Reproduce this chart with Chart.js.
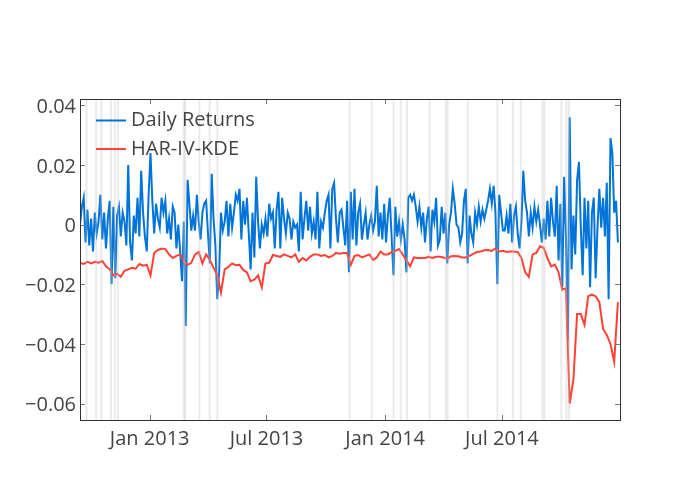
<!DOCTYPE html>
<html>
<head>
<meta charset="utf-8">
<script src="https://cdn.jsdelivr.net/npm/chart.js@4.4.1/dist/chart.umd.min.js"></script>
<style>
  html, body { margin: 0; padding: 0; background: #fff; }
</style>
</head>
<body>
<canvas id="chart" width="700" height="500"></canvas>
<script>
// x values are days counted from 1 Jan 2013
const dayStart = -108;
const returnsStep = 2.875;
const varStep = 5.75;

const dailyReturns = [
  0.000, 0.006, 0.009, -0.006, 0.005, -0.007, 0.002, -0.009, 0.004, -0.003,
  0.001, 0.010, -0.005, 0.004, -0.008, 0.002, 0.008, -0.020, 0.006, -0.018,
  0.003, 0.006, -0.004, 0.004, 0.001, -0.007, 0.020, -0.006, -0.012, 0.003,
  -0.003, 0.009, -0.004, 0.018, 0.004, -0.004, -0.009, 0.010, 0.024, 0.008,
  -0.003, 0.007, 0.002, -0.001, 0.009, 0.004, 0.008, -0.003, 0.002,
  -0.005, 0.006, 0.004, -0.008, 0.000, -0.009, -0.019, 0.001, -0.034, 0.015,
  0.007, -0.002, 0.003, -0.002, 0.010, 0.001, -0.005, 0.004, 0.007, 0.008,
  -0.003, -0.013, 0.017, 0.002, -0.007, -0.025, -0.016, 0.004, -0.002, 0.001,
  0.008, -0.004, 0.007, -0.001, 0.004, 0.010, 0.008, 0.012, -0.005, 0.008,
  0.000, 0.009, -0.003, -0.015, 0.004, -0.011, 0.016, 0.001, -0.008,
  0.000, -0.003, 0.002, -0.004, 0.007, 0.002, 0.004, -0.008, 0.005, 0.011,
  -0.008, 0.009, 0.002, -0.003, 0.004, 0.002, -0.005, 0.001, -0.001, 0.000,
  -0.009, 0.011, -0.005, 0.002, 0.008, -0.002, 0.006, -0.003, 0.001, -0.005,
  0.011, -0.008, 0.001, -0.001, 0.004, 0.008, 0.010, -0.008, 0.012, 0.014,
  0.002, -0.006, 0.004, 0.005, -0.001, -0.007, 0.008, -0.016,
  0.011, -0.005, 0.012, -0.007, 0.004, 0.007, -0.005, 0.000, 0.004, -0.005,
  0.000, 0.003, -0.002, 0.001, 0.013, -0.004, 0.004, -0.005, 0.007, -0.006,
  0.003, 0.009, -0.004, -0.017, 0.006, -0.004, 0.001, -0.005, 0.000, -0.005,
  -0.016, 0.009, 0.010, 0.008, 0.010, 0.006, 0.001, 0.006, -0.001, 0.004,
  -0.006, 0.002, 0.006, -0.009, 0.005, 0.001, 0.009, -0.007, -0.005,
  0.006, -0.003, 0.004, -0.013, 0.000, 0.004, 0.012, 0.007, 0.000, -0.001,
  -0.006, -0.003, 0.008, 0.012, -0.013, 0.003, -0.003, -0.006, 0.004, 0.000,
  0.006, 0.001, 0.005, 0.002, 0.005, 0.008, 0.012, 0.007, 0.013, 0.004,
  -0.020, 0.010, 0.004, -0.002, -0.002, 0.003, -0.003, 0.007, -0.006, 0.003,
  0.006, -0.003, -0.008, 0.001, 0.018, 0.008, 0.004, -0.004,
  0.004, -0.001, 0.006, 0.001, 0.005, 0.000, -0.006, 0.002, -0.005, 0.008,
  -0.004, 0.009, 0.001, -0.004, 0.013, -0.012, 0.007, -0.021, 0.016, -0.004,
  -0.039, 0.036, -0.015, 0.003, -0.010, 0.015, 0.021, -0.001, -0.017, 0.009,
  -0.008, 0.008, -0.021, 0.004, 0.009, -0.018, -0.001, 0.012, -0.001, 0.009,
  -0.004, 0.014, -0.025, 0.029, 0.024, 0.004, 0.008, -0.006
];

const harIvKde = [
  -0.0129, -0.0132, -0.0125, -0.0130, -0.0125, -0.0128, -0.0122, -0.0140, -0.0150, -0.0170,
  -0.0165, -0.0175, -0.0155, -0.0150, -0.0145, -0.0148, -0.0132, -0.0138, -0.0135, -0.0170,
  -0.0095, -0.0085, -0.0080, -0.0082, -0.0100,
  -0.0112, -0.0105, -0.0100, -0.0125, -0.0135, -0.0128, -0.0100, -0.0092, -0.0130, -0.0100,
  -0.0118, -0.0145, -0.0168, -0.0228, -0.0150, -0.0142, -0.0130, -0.0136, -0.0135, -0.0152,
  -0.0160, -0.0190, -0.0185, -0.0170,
  -0.0210, -0.0130, -0.0128, -0.0102, -0.0105, -0.0108, -0.0100, -0.0105, -0.0110, -0.0100,
  -0.0125, -0.0112, -0.0120, -0.0108, -0.0100, -0.0100, -0.0105, -0.0102, -0.0110, -0.0105,
  -0.0095, -0.0098, -0.0095, -0.0095,
  -0.0135, -0.0105, -0.0102, -0.0110, -0.0105, -0.0100, -0.0118, -0.0110, -0.0090, -0.0100,
  -0.0100, -0.0092, -0.0088, -0.0082, -0.0100, -0.0120, -0.0140, -0.0110, -0.0112, -0.0112,
  -0.0112, -0.0108, -0.0112, -0.0108,
  -0.0108, -0.0110, -0.0115, -0.0106, -0.0105, -0.0106, -0.0110, -0.0110, -0.0105, -0.0098,
  -0.0092, -0.0090, -0.0086, -0.0085, -0.0088, -0.0080, -0.0090, -0.0088, -0.0092, -0.0090,
  -0.0090, -0.0092, -0.0112, -0.0160, -0.0175,
  -0.0100, -0.0095, -0.0073, -0.0078, -0.0112, -0.0140, -0.0134, -0.0160, -0.0218, -0.0213,
  -0.0600, -0.0520, -0.0300, -0.0300, -0.0336, -0.0240, -0.0235, -0.0240, -0.0260, -0.0350,
  -0.0370, -0.0400, -0.0460, -0.0260
];

// days on which the return fell below the VaR line
const violationDays = [-98, -83, -75, -60, -54, -49, 53, 55, 77, 93, 105, 310, 344, 378,
  389, 399, 434, 459, 462, 493, 539, 563, 575, 609, 612, 638, 646, 650];

const tickDays = [0, 181, 365, 546];
const tickLabels = ['Jan 2013', 'Jul 2013', 'Jan 2014', 'Jul 2014'];
const yTicks = [0.04, 0.02, 0, -0.02, -0.04, -0.06];

const FONT = { family: '"Open Sans", sans-serif', size: 20 };
const TEXT = '#444';

const violationLines = {
  id: 'violationLines',
  afterDatasetsDraw(chart) {
    const { ctx, chartArea: a, scales: { x } } = chart;
    ctx.save();
    ctx.strokeStyle = 'rgba(195,195,195,0.35)';
    ctx.lineWidth = 2;
    violationDays.forEach(d => {
      const px = x.getPixelForValue(d);
      ctx.beginPath();
      ctx.moveTo(px, a.top);
      ctx.lineTo(px, a.bottom);
      ctx.stroke();
    });
    ctx.restore();
  }
};

const frame = {
  id: 'frame',
  afterDraw(chart) {
    const { ctx, chartArea: a, scales: { x, y } } = chart;
    ctx.save();
    ctx.strokeStyle = '#777';
    ctx.lineWidth = 1;
    ctx.beginPath();
    tickDays.forEach(d => {
      const px = Math.round(x.getPixelForValue(d)) + 0.5;
      ctx.moveTo(px, a.bottom); ctx.lineTo(px, a.bottom - 5);
      ctx.moveTo(px, a.top); ctx.lineTo(px, a.top + 5);
    });
    yTicks.forEach(v => {
      const py = Math.round(y.getPixelForValue(v)) + 0.5;
      ctx.moveTo(a.left, py); ctx.lineTo(a.left + 5, py);
      ctx.moveTo(a.right, py); ctx.lineTo(a.right - 5, py);
    });
    ctx.stroke();
    ctx.strokeStyle = '#333';
    ctx.strokeRect(Math.round(a.left) + 0.5, Math.round(a.top) + 0.5,
      Math.round(a.right - a.left), Math.round(a.bottom - a.top));

    // legend, drawn inside the plot area
    ctx.font = FONT.size + 'px ' + FONT.family;
    ctx.textBaseline = 'middle';
    chart.data.datasets.forEach((ds, i) => {
      const ly = 120.5 + i * 28.5;
      ctx.strokeStyle = ds.borderColor;
      ctx.lineWidth = 2;
      ctx.beginPath();
      ctx.moveTo(96, ly); ctx.lineTo(126, ly);
      ctx.stroke();
      ctx.fillStyle = TEXT;
      ctx.fillText(ds.label, 131, ly);
    });
    ctx.restore();
  }
};

function build() {
  new Chart(document.getElementById('chart'), {
    type: 'line',
    data: {
      datasets: [
        {
          label: 'Daily Returns',
          data: dailyReturns.map((v, i) => ({ x: dayStart + i * returnsStep, y: v })),
          borderColor: '#0074D9', borderWidth: 2, pointRadius: 0, tension: 0, order: 1
        },
        {
          label: 'HAR-IV-KDE',
          data: harIvKde.map((v, i) => ({ x: dayStart + i * varStep, y: v })),
          borderColor: '#FF4136', borderWidth: 2, pointRadius: 0, tension: 0, order: 0
        }
      ]
    },
    options: {
      responsive: false,
      animation: false,
      devicePixelRatio: 1,
      layout: { padding: { top: 99, right: 80, bottom: 0, left: 0 } },
      plugins: { legend: { display: false }, tooltip: { enabled: false } },
      scales: {
        x: {
          type: 'linear', min: -108, max: 729,
          afterBuildTicks: s => { s.ticks = tickDays.map(v => ({ value: v })); },
          afterFit: s => { s.height = 80; },
          grid: { display: false, drawTicks: false },
          border: { display: false },
          ticks: {
            autoSkip: false, maxRotation: 0, padding: 7, color: TEXT, font: FONT,
            callback: v => tickLabels[tickDays.indexOf(v)]
          }
        },
        y: {
          type: 'linear', min: -0.0655, max: 0.0421,
          afterBuildTicks: s => { s.ticks = yTicks.map(v => ({ value: v })); },
          afterFit: s => { s.width = 80; },
          grid: { display: false, drawTicks: false },
          border: { display: false },
          ticks: {
            padding: 4, labelOffset: 2, color: TEXT, font: FONT,
            callback: v => v === 0 ? '0' : (v < 0 ? '\u2212' : '') + Math.abs(v).toFixed(2)
          }
        }
      }
    },
    plugins: [violationLines, frame]
  });
}

document.fonts.load('20px "Open Sans"').then(build, build);
</script>
</body>
</html>
